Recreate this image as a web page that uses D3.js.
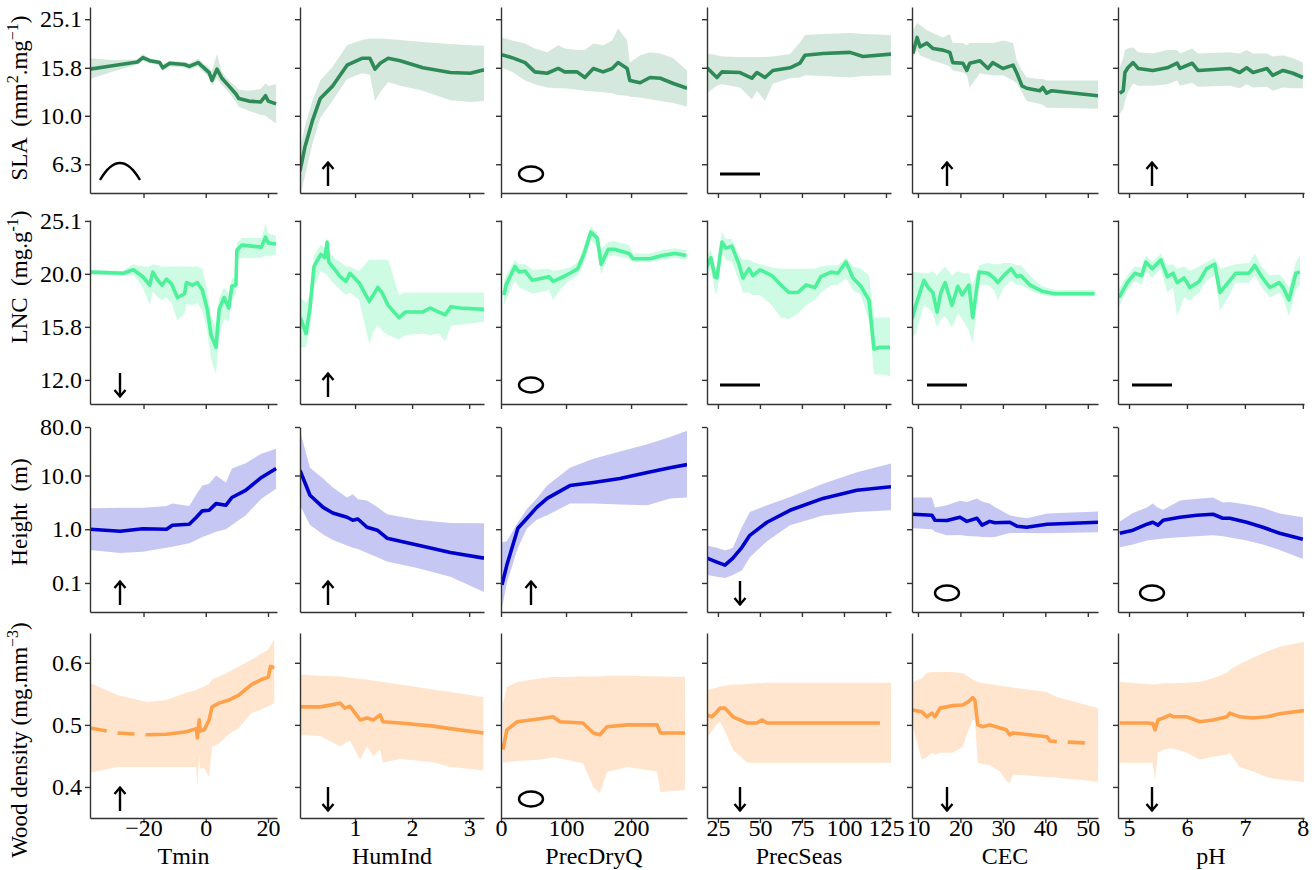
<!DOCTYPE html>
<html>
<head>
<meta charset="utf-8">
<script src="https://cdn.jsdelivr.net/npm/d3@7"></script>
<style>
  body { margin: 0; background: #fff; }
  svg text { font-family: "Liberation Serif", "Times New Roman", serif; fill: #000; }
</style>
</head>
<body>
<svg id="chart" width="1315" height="870"></svg>
<script>
'use strict';

/* Data */

// columns: environmental predictors
var predictorNames = ["Tmin", "HumInd", "PrecDryQ", "PrecSeas", "CEC", "pH"];
var predictorDomains = [[-37.2, 22.9], [0.035, 3.26], [0, 286], [18.5, 128], [8.6, 52.4], [4.81, 8.02]];
var predictorTicks = [[-20, 0, 20], [1, 2, 3], [0, 100, 200], [25, 50, 75, 100, 125], [10, 20, 30, 40, 50], [5, 6, 7, 8]];

// rows: traits
var traitScaleTypes = ["log", "log", "log", "linear"];
var traitDomains = [[4.79, 28.2], [11.34, 25.2], [0.0288, 80], [0.35, 0.648]];
var traitTickValues = [[25.1, 15.8, 10, 6.3], [25.1, 19.95, 15.85, 12.59], [80, 10, 1, 0.1], [0.6, 0.5, 0.4]];
var traitTickLabels = [["25.1", "15.8", "10.0", "6.3"], ["25.1", "20.0", "15.8", "12.0"], ["80.0", "10.0", "1.0", "0.1"], ["0.6", "0.5", "0.4"]];
var traitLabelParts = [
  [["SLA  (mm", 0], ["2", 1], [".mg", 0], ["\u22121", 1], [")", 0]],
  [["LNC  (mg.g", 0], ["-1", 1], [")", 0]],
  [["Height  (m)", 0]],
  [["Wood density (mg.mm", 0], ["\u22123", 1], [")", 0]]
];
var traitColors = ["#2e8b57", "#4cf19a", "#0000cd", "#ffa04a"];

// trend symbol per panel (row = trait, column = predictor)
var trendSymbols = [
  ["hump", "up", "none", "flat", "up", "up"],
  ["down", "up", "none", "flat", "flat", "flat"],
  ["up", "up", "up", "down", "none", "none"],
  ["up", "down", "none", "down", "down", "down"]
];

// dashed stretches of the fitted line: [row, col, from, to, dash offset]
var dashedStretches = [[3, 0, -37.2, -18.9, 0], [3, 4, 42.7, 49.3, 17]];

// each series: [predictor, trait, lower band, upper band]
var slaTmin = [[-37.2, 15.6, 14.2, 17.3], [-30, 16.1, 15.2, 17.0], [-22, 16.7, 16.3, 17.1], [-20.2, 17.4, 16.8, 18.0], [-18, 16.9, 16.5, 17.3], [-14.8, 16.6, 16.2, 17.0], [-13.8, 15.8, 15.3, 16.3], [-11.6, 16.5, 16.0, 16.9], [-6.8, 16.3, 15.8, 16.7], [-5.3, 16.0, 15.5, 16.5], [-2.4, 16.6, 16.0, 17.2], [-1.1, 16.0, 15.3, 16.6], [1.1, 15.1, 14.4, 15.8], [2.0, 14.0, 13.3, 15.3], [3.6, 15.6, 14.3, 18.0], [5.2, 14.3, 13.4, 15.2], [7.4, 13.3, 12.5, 14.0], [9.7, 12.3, 11.4, 13.2], [10.6, 11.8, 10.9, 12.8], [13.8, 11.5, 10.5, 12.7], [17.6, 11.4, 10.1, 12.9], [19.2, 12.1, 10.0, 13.6], [20.1, 11.5, 9.8, 13.3], [22.6, 11.2, 9.3, 13.5]];
var slaHum = [[0.035, 5.9, 4.6, 7.3], [0.12, 7.4, 5.6, 9.0], [0.25, 9.5, 7.6, 11.5], [0.39, 11.8, 9.8, 14.0], [0.61, 13.3, 11.6, 16.0], [0.86, 16.2, 14.2, 19.6], [1.12, 17.3, 15.0, 20.6], [1.26, 17.3, 14.8, 20.9], [1.35, 15.6, 11.5, 20.9], [1.44, 16.5, 12.5, 20.9], [1.58, 17.3, 13.8, 20.8], [1.79, 16.9, 13.3, 20.6], [2.19, 15.8, 12.7, 20.2], [2.67, 15.1, 11.6, 19.8], [3.02, 15.0, 11.4, 19.6], [3.26, 15.5, 11.5, 19.5]];
var slaDry = [[1.5, 17.9, 15.8, 21.1], [17, 17.4, 15.2, 20.5], [37, 16.6, 14.0, 19.9], [52, 15.2, 13.5, 19.0], [71, 15.0, 13.1, 18.3], [88, 15.7, 13.0, 19.6], [98, 15.2, 13.0, 19.0], [117, 15.2, 12.8, 18.7], [129, 14.4, 12.7, 18.7], [142, 15.7, 12.6, 19.9], [157, 15.2, 12.5, 19.6], [171, 15.7, 12.4, 20.5], [180, 16.6, 12.2, 23.0], [194, 15.7, 12.1, 20.5], [198, 14.0, 12.0, 16.6], [214, 13.7, 11.9, 17.8], [229, 14.4, 11.7, 18.3], [245, 14.3, 11.5, 18.1], [265, 13.6, 11.3, 17.3], [286, 13.0, 10.9, 15.4]];
var slaSeas = [[18.5, 15.8, 12.4, 18.1], [24.4, 14.4, 13.3, 17.8], [27.4, 15.2, 13.5, 17.6], [38.1, 15.1, 13.1, 17.5], [45.2, 14.3, 11.7, 17.5], [48.2, 15.1, 12.7, 17.5], [53, 14.4, 11.5, 17.5], [57.7, 15.4, 13.6, 17.6], [67.9, 15.8, 14.3, 18.0], [73.8, 16.5, 14.4, 20.1], [76.8, 17.8, 14.7, 21.6], [87.5, 18.1, 14.6, 21.8], [103.6, 18.3, 14.4, 22.0], [111.3, 17.6, 14.6, 21.8], [128, 18.0, 14.7, 21.6]];
var slaCec = [[8.8, 18.1, 17.5, 22.6], [9.8, 21.1, 18.7, 24.2], [10.5, 19.3, 17.8, 23.7], [12.1, 20.0, 17.3, 22.6], [13.5, 19.0, 16.9, 22.0], [15.9, 18.7, 16.4, 21.1], [17.5, 18.3, 16.0, 21.8], [18.2, 16.6, 15.4, 20.0], [20.6, 16.5, 15.1, 20.0], [21.5, 15.4, 14.7, 19.6], [22.2, 16.5, 13.1, 20.0], [24.6, 16.9, 15.0, 20.0], [26.5, 15.7, 14.8, 20.0], [27.6, 16.6, 14.7, 20.0], [30.0, 15.7, 14.7, 20.5], [32.4, 16.2, 14.0, 20.0], [33.3, 15.0, 13.6, 16.9], [34.5, 13.3, 12.5, 15.4], [35.6, 13.0, 11.5, 14.4], [38.7, 12.7, 11.2, 14.2], [39.4, 13.1, 11.1, 14.2], [40.3, 12.4, 10.8, 14.0], [41.5, 12.7, 10.8, 14.0], [52.4, 12.1, 10.7, 14.0]];
var slaPh = [[4.84, 12.4, 10.2, 15.8], [4.90, 12.7, 10.7, 17.3], [4.93, 15.1, 11.5, 18.7], [4.98, 15.8, 12.5, 19.0], [5.07, 16.6, 13.6, 19.2], [5.16, 15.7, 13.3, 18.3], [5.41, 15.4, 13.3, 18.1], [5.66, 15.8, 13.5, 18.7], [5.83, 16.5, 14.0, 18.7], [5.88, 15.7, 13.3, 18.1], [6.09, 16.5, 13.7, 19.0], [6.19, 15.4, 13.2, 18.1], [6.74, 15.7, 13.3, 18.3], [6.91, 15.1, 13.0, 18.1], [7.03, 15.8, 13.5, 18.7], [7.14, 15.1, 13.1, 18.1], [7.38, 15.7, 13.2, 18.1], [7.48, 14.7, 12.7, 17.6], [7.66, 15.4, 13.1, 17.8], [7.83, 15.0, 13.0, 17.3], [8.0, 14.4, 13.0, 16.6]];

var lncTmin = [[-37.2, 20.1, 19.9, 20.3], [-26.5, 20.0, 19.8, 20.2], [-23.3, 20.3, 19.9, 20.8], [-20.2, 19.7, 18.8, 20.6], [-18, 19.0, 17.4, 20.6], [-17, 20.1, 18.5, 20.8], [-15.4, 19.4, 18.0, 20.7], [-14.1, 19.0, 17.8, 20.6], [-12.6, 19.5, 18.0, 20.6], [-11, 19.1, 17.6, 20.6], [-9.1, 18.0, 16.3, 20.6], [-6.8, 18.3, 16.8, 20.6], [-6.2, 19.2, 17.5, 20.6], [-4.3, 19.0, 17.4, 20.6], [-2.7, 19.2, 17.6, 20.6], [-1.1, 18.6, 17.0, 20.4], [0.5, 17.1, 15.6, 18.5], [1.7, 15.3, 13.8, 16.6], [3.3, 14.5, 12.9, 15.8], [4.3, 17.1, 15.2, 18.0], [5.9, 18.0, 16.4, 18.8], [7.4, 17.2, 16.2, 18.3], [8.4, 18.9, 17.8, 19.6], [9.7, 19.0, 18.3, 19.6], [10.0, 22.1, 21.3, 22.8], [11.6, 22.6, 21.4, 23.3], [17.9, 22.4, 21.4, 23.3], [19.2, 23.4, 21.6, 24.8], [20.1, 22.8, 21.5, 23.8], [22.6, 22.7, 21.7, 23.5]];
var lncHum = [[0.04, 16.5, 14.5, 18.0], [0.14, 15.4, 14.5, 17.6], [0.21, 17.2, 15.7, 18.2], [0.28, 20.6, 18.8, 21.6], [0.40, 21.7, 20.2, 22.6], [0.47, 21.4, 20.0, 22.3], [0.51, 22.9, 19.9, 23.3], [0.54, 21.0, 19.6, 22.0], [0.65, 20.3, 19.0, 21.3], [0.74, 19.7, 18.6, 21.0], [0.84, 19.3, 18.2, 20.6], [0.91, 20.0, 18.4, 20.6], [1.07, 19.2, 17.8, 20.2], [1.25, 17.7, 14.7, 21.2], [1.32, 18.2, 15.5, 21.2], [1.40, 18.8, 16.0, 21.2], [1.47, 18.4, 15.6, 21.2], [1.58, 17.4, 15.3, 21.2], [1.77, 16.5, 15.0, 18.2], [1.88, 16.9, 15.3, 18.4], [2.18, 16.9, 15.4, 18.4], [2.32, 17.2, 15.3, 18.4], [2.47, 16.9, 15.4, 18.4], [2.58, 16.7, 14.9, 18.4], [2.68, 17.3, 15.9, 18.4], [2.84, 17.2, 16.0, 18.4], [3.26, 17.1, 16.2, 18.4]];
var lncDry = [[4.6, 18.2, 17.4, 19.3], [7.7, 19.0, 17.8, 19.8], [21.5, 20.6, 19.4, 21.2], [27.7, 20.1, 18.8, 20.8], [37, 20.2, 18.6, 20.8], [48, 19.4, 18.3, 20.3], [74, 19.7, 18.6, 20.4], [80, 19.3, 17.8, 20.2], [92, 19.6, 18.7, 20.3], [106, 20.0, 19.4, 20.5], [118, 20.4, 19.8, 21.0], [128, 21.8, 21.0, 22.6], [138, 23.9, 23.1, 24.5], [148, 23.3, 22.4, 23.9], [154, 20.8, 19.9, 22.2], [165, 22.2, 21.5, 22.9], [174, 22.2, 21.6, 23.0], [197, 21.8, 21.3, 22.6], [203, 21.3, 21.0, 21.8], [229, 21.3, 21.0, 21.8], [248, 21.6, 21.2, 22.1], [268, 21.8, 21.4, 22.3], [285, 21.6, 21.2, 22.1]];
var lncSeas = [[18.5, 20.6, 19.6, 21.6], [20.8, 21.4, 20.4, 22.2], [23.2, 19.7, 18.5, 20.6], [24.4, 19.6, 18.3, 20.5], [27.4, 22.9, 21.8, 23.9], [29.8, 22.3, 21.2, 23.2], [33.3, 22.5, 21.0, 23.2], [37.5, 20.8, 19.4, 21.6], [39.9, 19.6, 18.4, 21.2], [43.5, 20.4, 18.4, 21.2], [45.8, 19.8, 18.2, 21.0], [50, 20.3, 18.2, 20.8], [57.1, 19.8, 17.4, 20.5], [62.5, 19.0, 16.5, 20.4], [67.3, 18.4, 16.4, 20.4], [72.6, 18.4, 16.8, 20.4], [77.4, 19.0, 17.4, 20.4], [82.7, 18.8, 17.8, 20.4], [86.3, 19.7, 18.4, 20.6], [92.3, 20.1, 19.0, 20.7], [96.4, 20.0, 19.0, 20.7], [101.2, 21.0, 19.6, 21.4], [105.4, 19.6, 18.6, 20.6], [110.1, 18.9, 18.2, 20.4], [114.9, 17.8, 16.3, 19.8], [117.9, 14.4, 12.9, 16.5], [121.4, 14.5, 12.9, 16.5], [127.4, 14.5, 12.8, 16.5]];
var lncCec = [[8.6, 16.4, 15.1, 20.1], [9.5, 17.4, 15.4, 20.1], [11.4, 19.4, 17.4, 20.0], [12.4, 18.8, 17.2, 20.0], [13.5, 18.4, 16.8, 20.2], [14.5, 16.9, 15.8, 19.8], [15.4, 18.4, 16.4, 20.2], [16.4, 19.2, 16.6, 20.6], [18.0, 17.4, 15.8, 19.8], [19.4, 18.9, 16.8, 20.2], [20.4, 18.2, 16.4, 20.0], [22.0, 19.0, 15.6, 20.0], [22.9, 16.5, 14.7, 19.0], [24.4, 20.1, 19.0, 20.7], [26.5, 20.0, 19.0, 20.9], [27.9, 19.6, 18.6, 20.8], [28.8, 19.2, 17.8, 20.8], [30.2, 19.8, 18.8, 20.9], [31.9, 20.4, 19.4, 20.9], [33.3, 19.7, 19.0, 20.7], [34.2, 19.8, 19.0, 20.7], [36.4, 19.0, 18.6, 19.8], [39.2, 18.5, 18.2, 18.9], [42.2, 18.3, 18.1, 18.6], [51.6, 18.3, 18.1, 18.6]];
var lncPh = [[4.80, 18.2, 17.6, 18.8], [4.84, 18.1, 17.4, 18.8], [4.97, 19.2, 18.6, 19.8], [5.10, 20.0, 19.3, 20.6], [5.22, 19.8, 19.0, 20.5], [5.29, 21.0, 20.2, 21.6], [5.40, 20.4, 19.6, 21.0], [5.55, 21.2, 20.4, 21.8], [5.66, 19.7, 18.4, 20.7], [5.76, 20.0, 18.8, 20.8], [5.83, 19.2, 16.6, 20.4], [5.95, 19.6, 18.0, 20.6], [6.05, 18.8, 17.8, 20.2], [6.21, 19.3, 18.4, 20.6], [6.34, 20.4, 19.4, 21.0], [6.48, 20.8, 19.8, 21.4], [6.57, 18.4, 17.0, 20.4], [6.71, 19.2, 18.0, 20.6], [6.84, 20.0, 19.2, 20.8], [7.07, 20.0, 19.2, 20.9], [7.17, 20.7, 19.8, 21.8], [7.29, 19.7, 18.8, 20.6], [7.43, 18.8, 18.0, 19.8], [7.59, 19.2, 18.4, 19.9], [7.66, 18.8, 18.0, 19.6], [7.76, 17.8, 16.6, 18.8], [7.88, 20.0, 18.6, 21.0], [7.95, 20.1, 19.0, 21.6]];

var heightTmin = [[-37.2, 1.0, 0.41, 2.45], [-27.5, 0.92, 0.36, 2.5], [-20.2, 1.02, 0.38, 2.5], [-12.6, 1.0, 0.45, 2.7], [-10.7, 1.19, 0.47, 3.0], [-5.3, 1.24, 0.55, 2.7], [-3.0, 1.67, 0.63, 4.5], [-1.1, 2.2, 0.72, 6.5], [1.1, 2.25, 0.8, 7.0], [3.3, 3.0, 0.9, 10.0], [6.5, 2.8, 1.0, 7.4], [8.4, 3.9, 1.2, 13.5], [12.8, 5.3, 1.8, 17.0], [17.9, 9.2, 3.7, 25.5], [22.6, 13.5, 5.7, 31.6]];
var heightHum = [[0.035, 12.4, 2.8, 68], [0.21, 4.3, 1.2, 14.0], [0.44, 2.55, 0.8, 8.8], [0.61, 2.0, 0.63, 6.0], [0.86, 1.67, 0.5, 3.9], [0.96, 1.47, 0.45, 4.5], [1.05, 1.55, 0.43, 3.6], [1.21, 1.09, 0.36, 3.44], [1.39, 0.96, 0.3, 2.6], [1.56, 0.68, 0.25, 1.9], [2.09, 0.51, 0.19, 1.5], [2.67, 0.37, 0.13, 1.3], [3.26, 0.29, 0.068, 1.29]];
var heightDry = [[1.5, 0.092, 0.034, 0.57], [9, 0.215, 0.1, 0.6], [26, 1.04, 0.45, 1.35], [40, 1.6, 1.04, 2.4], [55, 2.55, 1.5, 3.75], [71, 3.75, 1.82, 6.5], [106, 6.5, 3.0, 14], [142, 7.4, 3.0, 20.6], [183, 8.8, 2.9, 28], [225, 11.4, 2.8, 38], [260, 14.0, 3.75, 52], [286, 16.0, 3.9, 68]];
var heightSeas = [[18.5, 0.29, 0.14, 0.5], [24.4, 0.245, 0.13, 0.45], [29.2, 0.215, 0.124, 0.4], [33.9, 0.29, 0.14, 0.45], [39.3, 0.46, 0.17, 1.1], [44, 0.77, 0.3, 2.1], [54.2, 1.35, 0.6, 2.8], [67.9, 2.25, 1.19, 4.0], [87.5, 3.75, 1.8, 7.0], [107.7, 5.3, 2.1, 11.5], [128, 6.2, 2.25, 16.7]];
var heightCec = [[8.8, 1.9, 1.04, 3.9], [13.3, 1.82, 1.0, 3.9], [14.0, 1.47, 0.9, 2.55], [16.8, 1.45, 0.77, 2.8], [19.9, 1.67, 0.78, 3.4], [21.5, 1.4, 0.75, 3.2], [23.9, 1.6, 0.73, 3.75], [25.1, 1.19, 0.72, 3.3], [26.9, 1.4, 0.71, 3.0], [28.1, 1.32, 0.72, 2.6], [31.6, 1.35, 0.85, 1.82], [33.3, 1.14, 0.85, 1.7], [35.6, 1.09, 0.85, 1.6], [40.4, 1.24, 0.84, 1.97], [52.4, 1.35, 0.88, 2.15]];
var heightPh = [[4.84, 0.84, 0.46, 1.4], [5.07, 0.96, 0.52, 2.0], [5.31, 1.24, 0.62, 2.55], [5.41, 1.35, 0.64, 3.0], [5.50, 1.19, 0.65, 2.5], [5.59, 1.47, 0.67, 2.3], [5.88, 1.67, 0.71, 3.44], [6.17, 1.82, 0.74, 3.7], [6.45, 1.9, 0.77, 3.9], [6.62, 1.6, 0.74, 3.16], [6.74, 1.6, 0.7, 3.2], [7.03, 1.35, 0.62, 2.9], [7.31, 1.09, 0.52, 2.5], [7.60, 0.84, 0.41, 1.97], [8.0, 0.65, 0.28, 1.67]];

var woodTmin = [[-37.2, 0.495, 0.423, 0.568], [-28.4, 0.487, 0.432, 0.548], [-18.9, 0.484, 0.432, 0.537], [-12.6, 0.485, 0.432, 0.540], [-6.2, 0.489, 0.432, 0.552], [-3.0, 0.494, 0.432, 0.556], [-2.7, 0.479, 0.40, 0.557], [-2.1, 0.508, 0.45, 0.558], [-1.8, 0.490, 0.43, 0.559], [-0.5, 0.492, 0.43, 0.562], [1.1, 0.508, 0.416, 0.566], [2.0, 0.529, 0.465, 0.573], [4.3, 0.535, 0.47, 0.578], [7.4, 0.540, 0.485, 0.585], [10.6, 0.548, 0.495, 0.594], [14.7, 0.565, 0.519, 0.605], [17.9, 0.573, 0.525, 0.615], [20.1, 0.577, 0.53, 0.621], [20.8, 0.594, 0.532, 0.628], [22.0, 0.592, 0.535, 0.637]];
var woodHum = [[0.035, 0.529, 0.484, 0.581], [0.39, 0.529, 0.482, 0.579], [0.74, 0.535, 0.465, 0.578], [0.82, 0.527, 0.47, 0.577], [0.91, 0.530, 0.475, 0.576], [1.09, 0.508, 0.444, 0.574], [1.21, 0.511, 0.465, 0.573], [1.32, 0.508, 0.45, 0.571], [1.44, 0.516, 0.46, 0.570], [1.49, 0.505, 0.439, 0.569], [1.79, 0.503, 0.445, 0.565], [2.37, 0.498, 0.440, 0.557], [2.67, 0.494, 0.432, 0.553], [3.25, 0.487, 0.427, 0.545]];
var woodDry = [[3, 0.46, 0.439, 0.535], [9, 0.492, 0.440, 0.561], [25, 0.505, 0.442, 0.569], [60, 0.51, 0.444, 0.575], [80, 0.513, 0.448, 0.577], [91, 0.505, 0.446, 0.577], [126, 0.503, 0.438, 0.578], [142, 0.487, 0.40, 0.578], [152, 0.484, 0.39, 0.578], [163, 0.497, 0.424, 0.579], [194, 0.50, 0.432, 0.579], [240, 0.50, 0.425, 0.578], [245, 0.487, 0.392, 0.578], [283, 0.487, 0.395, 0.577]];
var woodSeas = [[18.5, 0.516, 0.479, 0.556], [21.4, 0.513, 0.49, 0.558], [24.0, 0.520, 0.50, 0.560], [26.2, 0.527, 0.505, 0.562], [29.2, 0.527, 0.49, 0.563], [33.9, 0.513, 0.46, 0.565], [38.1, 0.508, 0.45, 0.565], [42.3, 0.503, 0.439, 0.566], [48.2, 0.503, 0.439, 0.567], [51.2, 0.508, 0.439, 0.567], [54.2, 0.503, 0.439, 0.568], [57.7, 0.503, 0.439, 0.568], [121.4, 0.503, 0.439, 0.568], [128, null, 0.439, 0.568]];
var woodCec = [[8.8, 0.524, 0.497, 0.569], [10.9, 0.521, 0.444, 0.575], [12.1, 0.513, 0.448, 0.584], [13.3, 0.519, 0.455, 0.585], [14.0, 0.513, 0.452, 0.585], [15.2, 0.527, 0.455, 0.585], [18.2, 0.531, 0.455, 0.585], [20.6, 0.532, 0.465, 0.583], [21.8, 0.537, 0.49, 0.578], [22.9, 0.544, 0.508, 0.573], [23.4, 0.540, 0.508, 0.572], [24.1, 0.500, 0.439, 0.569], [25.3, 0.497, 0.437, 0.567], [26.9, 0.500, 0.435, 0.566], [29.3, 0.495, 0.425, 0.563], [30.8, 0.492, 0.41, 0.562], [31.6, 0.484, 0.406, 0.561], [32.4, 0.487, 0.42, 0.560], [40.4, 0.481, 0.416, 0.553], [41.1, 0.474, 0.416, 0.550], [42.7, 0.473, 0.415, 0.545], [49.3, 0.471, 0.411, 0.533], [52.4, null, 0.408, 0.527]];
var woodPh = [[4.84, 0.503, 0.439, 0.569], [5.31, 0.503, 0.439, 0.566], [5.41, 0.502, 0.439, 0.565], [5.45, 0.492, 0.411, 0.565], [5.50, 0.508, 0.455, 0.566], [5.59, 0.511, 0.46, 0.567], [5.71, 0.516, 0.462, 0.567], [5.76, 0.513, 0.462, 0.567], [6.00, 0.513, 0.455, 0.568], [6.22, 0.505, 0.444, 0.569], [6.45, 0.508, 0.449, 0.575], [6.69, 0.513, 0.452, 0.584], [6.74, 0.519, 0.455, 0.589], [6.91, 0.513, 0.432, 0.598], [7.14, 0.511, 0.425, 0.608], [7.38, 0.513, 0.416, 0.618], [7.60, 0.518, 0.412, 0.626], [8.02, 0.523, 0.408, 0.634]];

var traitSeries = [
  [slaTmin, slaHum, slaDry, slaSeas, slaCec, slaPh],
  [lncTmin, lncHum, lncDry, lncSeas, lncCec, lncPh],
  [heightTmin, heightHum, heightDry, heightSeas, heightCec, heightPh],
  [woodTmin, woodHum, woodDry, woodSeas, woodCec, woodPh]
];

/* Layout */

var colLeft = [90, 300, 501, 707, 912, 1118],
    colRight = [277, 484, 687, 891, 1098, 1304],
    rowTop = [7, 220, 427, 633],
    rowBottom = [193, 404, 612, 818],
    rowLabelY = [98, 277, 512, 740],
    symbolOffset = [30, 28, 30, 33, 35, 34],
    bandOpacity = [0.2, 0.28, 0.22, 0.27];

var svg = d3.select("#chart");

function drawSymbol(g, kind, cx, cy) {
  var s = g.append("g").attr("fill", "none").attr("stroke", "#000")
      .attr("stroke-width", 2.4).attr("stroke-linecap", "butt");
  if (kind === "up" || kind === "down") {
    var dir = kind === "up" ? -1 : 1;
    s.append("line").attr("x1", cx).attr("x2", cx)
      .attr("y1", cy - 12 * dir).attr("y2", cy + 12 * dir);
    s.append("polyline")
      .attr("points", [[cx - 5.5, cy + 5 * dir], [cx, cy + 11.5 * dir], [cx + 5.5, cy + 5 * dir]].join(" "));
  } else if (kind === "none") {
    s.append("ellipse").attr("cx", cx).attr("cy", cy).attr("rx", 12).attr("ry", 7.5);
  } else if (kind === "flat") {
    s.attr("stroke-width", 3);
    s.append("line").attr("x1", cx - 20).attr("x2", cx + 20).attr("y1", cy).attr("y2", cy);
  } else if (kind === "hump") {
    s.append("path").attr("d", "M" + (cx - 20) + "," + (cy + 6) + "Q" + cx + "," + (cy - 28) + " " + (cx + 20) + "," + (cy + 6));
  }
}

function styleAxis(g) {
  g.select(".domain").attr("stroke", "#333").attr("stroke-width", 1.4);
  g.selectAll(".tick line").attr("stroke", "#333").attr("stroke-width", 1.4);
  g.selectAll("text").attr("font-size", 24).attr("fill", "#000")
    .style("font-family", '"Liberation Serif", "Times New Roman", serif');
}

traitSeries.forEach(function(rowSeries, r) {
  var y = (traitScaleTypes[r] === "log" ? d3.scaleLog() : d3.scaleLinear())
      .domain(traitDomains[r])
      .range([rowBottom[r], rowTop[r]]);

  rowSeries.forEach(function(data, c) {
    var x = d3.scaleLinear().domain(predictorDomains[c]).range([colLeft[c], colRight[c]]);
    var clipId = "clip-" + r + "-" + c;

    svg.append("clipPath").attr("id", clipId).append("rect")
      .attr("x", colLeft[c]).attr("y", rowTop[r])
      .attr("width", colRight[c] - colLeft[c]).attr("height", rowBottom[r] - rowTop[r]);

    var g = svg.append("g").attr("clip-path", "url(#" + clipId + ")");

    var area = d3.area()
      .x(function(d) { return x(d[0]); })
      .y0(function(d) { return y(d[2]); })
      .y1(function(d) { return y(d[3]); });

    g.append("path").datum(data)
      .attr("d", area)
      .attr("fill", traitColors[r])
      .attr("fill-opacity", bandOpacity[r]);

    var line = d3.line()
      .x(function(d) { return x(d[0]); })
      .y(function(d) { return y(d[1]); });

    var fitted = data.filter(function(d) { return d[1] !== null; });
    var dash = dashedStretches.filter(function(s) { return s[0] === r && s[1] === c; })[0];
    var solid = fitted, dashed = [];
    if (dash) {
      dashed = fitted.filter(function(d) { return d[0] >= dash[2] && d[0] <= dash[3]; });
      // solid part sits on the side away from the dashes
      if (dash[2] <= predictorDomains[c][0]) {
        solid = fitted.filter(function(d) { return d[0] >= dash[3]; });
      } else {
        solid = fitted.filter(function(d) { return d[0] <= dash[2]; });
      }
    }

    g.append("path").datum(solid)
      .attr("d", line)
      .attr("fill", "none")
      .attr("stroke", traitColors[r])
      .attr("stroke-width", 3.6)
      .attr("stroke-linejoin", "round");

    if (dashed.length) {
      g.append("path").datum(dashed)
        .attr("d", line)
        .attr("fill", "none")
        .attr("stroke", traitColors[r])
        .attr("stroke-width", 3.6)
        .attr("stroke-dasharray", "17,11")
        .attr("stroke-dashoffset", dash[4]);
    }

    // axes
    var xAxis = d3.axisBottom(x)
      .tickValues(predictorTicks[c])
      .tickSize(5)
      .tickSizeOuter(0)
      .tickFormat(r === 3 ? d3.format("") : function() { return ""; });

    var gx = svg.append("g")
      .attr("transform", "translate(0," + rowBottom[r] + ")")
      .call(xAxis)
      .call(styleAxis);
    gx.selectAll("text").attr("y", 18).attr("dy", 0);

    var yAxis = d3.axisLeft(y)
      .tickValues(traitTickValues[r])
      .tickSize(5)
      .tickSizeOuter(0)
      .tickFormat(function(d, i) { return c === 0 ? traitTickLabels[r][i] : ""; });

    svg.append("g")
      .attr("transform", "translate(" + colLeft[c] + ",0)")
      .call(yAxis)
      .call(styleAxis)
      .selectAll("text").attr("x", -8);

    drawSymbol(svg, trendSymbols[r][c], colLeft[c] + symbolOffset[c], rowBottom[r] - 19);

    if (r === 3) {
      svg.append("text")
        .attr("x", (colLeft[c] + colRight[c]) / 2)
        .attr("y", 864)
        .attr("text-anchor", "middle")
        .attr("font-size", 24)
        .text(predictorNames[c]);
    }
  });

  // trait label with superscripts
  var label = svg.append("text")
    .attr("transform", "translate(27," + rowLabelY[r] + ") rotate(-90)")
    .attr("text-anchor", "middle")
    .attr("font-size", 23)
    .style("white-space", "pre");
  var prevSup = false;
  traitLabelParts[r].forEach(function(p) {
    var isSup = p[1] === 1;
    label.append("tspan")
      .attr("dy", isSup ? (prevSup ? 0 : -9) : (prevSup ? 9 : 0))
      .attr("font-size", isSup ? 16 : 23)
      .text(p[0]);
    prevSup = isSup;
  });
});
</script>
</body>
</html>
